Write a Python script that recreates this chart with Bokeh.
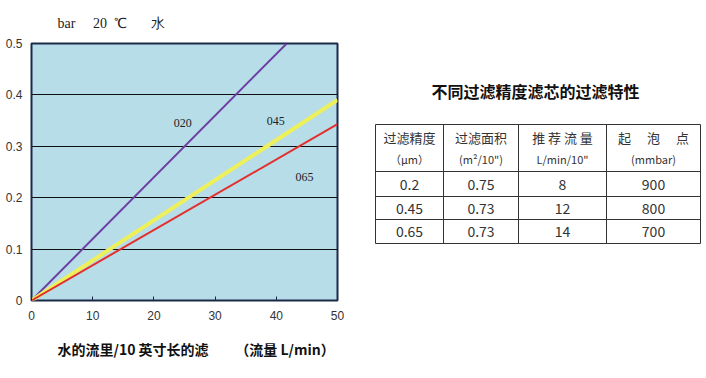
from bokeh.plotting import figure
from bokeh.models import Range1d, FixedTicker, Label, Title
from bokeh.layouts import row
from bokeh.embed import file_html
from bokeh.resources import INLINE

# ---------------- data ----------------
flow_020 = [0, 41.7]
dp_020 = [0, 0.5]
flow_045 = [0, 50]
dp_045 = [0, 0.39]
flow_065 = [0, 50]
dp_065 = [0, 0.343]
series_labels = ["020", "045", "065"]
label_x = [24.7, 39.9, 44.6]
label_y = [0.346, 0.350, 0.241]
x_ticks = [0, 10, 20, 30, 40, 50]
y_ticks = [0, 0.1, 0.2, 0.3, 0.4, 0.5]
y_tick_labels = ["0", "0.1", "0.2", "0.3", "0.4", "0.5"]
chart_title = "bar\u3000\u00a020\u00a0\u00a0℃\u3000\u00a0\u00a0\u00a0水"
x_caption = "水的流里/10 英寸长的滤\u3000\u00a0\u00a0\u00a0\u00a0（流量 L/min）"

table_title = "不同过滤精度滤芯的过滤特性"
header1 = ["过滤精度", "过滤面积", "推\u00a0荐\u00a0流\u00a0量", "起\u3000\u00a0泡\u3000\u00a0点"]
header2 = ["（μm）", "(m²/10\")", "L/min/10\"", "(mmbar)"]
precision = ["0.2", "0.45", "0.65"]
area = ["0.75", "0.73", "0.73"]
rec_flow = ["8", "12", "14"]
bubble = ["900", "800", "700"]

# ---------------- chart ----------------
SANS = "Liberation Sans"
SERIF = "Liberation Serif"
CJK = "Noto Sans CJK SC"

TOP, BOTTOM = 43, 78

p = figure(width=352, height=378, x_range=Range1d(0, 50), y_range=Range1d(0, 0.5),
           output_backend="svg", toolbar_location=None,
           min_border_left=31, min_border_right=15, min_border_top=TOP, min_border_bottom=BOTTOM)
p.background_fill_color = "#B7DDE8"
p.border_fill_color = "white"
p.outline_line_color = "#1B2A4A"
p.outline_line_width = 2
p.xgrid.visible = False
p.ygrid.ticker = FixedTicker(ticks=y_ticks)
p.ygrid.grid_line_color = "#111111"
p.ygrid.grid_line_width = 1

p.yaxis.ticker = FixedTicker(ticks=y_ticks)
p.yaxis.major_label_overrides = {t: s for t, s in zip(y_ticks, y_tick_labels)}
p.yaxis.axis_line_color = None
p.yaxis.major_tick_line_color = None
p.yaxis.minor_tick_line_color = None
p.yaxis.major_tick_in = 0
p.yaxis.major_tick_out = 0
p.yaxis.minor_tick_in = 0
p.yaxis.minor_tick_out = 0
p.yaxis.major_label_standoff = 9
p.yaxis.major_label_text_font = SANS
p.yaxis.major_label_text_font_size = "12px"
p.yaxis.major_label_text_color = "#333333"

p.xaxis.ticker = FixedTicker(ticks=x_ticks)
p.xaxis.axis_line_color = None
p.xaxis.major_tick_in = 4
p.xaxis.major_tick_out = 0
p.xaxis.major_tick_line_color = "#1B2A4A"
p.xaxis.minor_tick_line_color = None
p.xaxis.major_label_standoff = 10
p.xaxis.major_label_text_font = SANS
p.xaxis.major_label_text_font_size = "12px"
p.xaxis.major_label_text_color = "#333333"

p.title.text = chart_title
p.title.align = "left"
p.title.offset = 26
p.title.text_font = SERIF
p.title.text_font_size = "14px"
p.title.text_font_style = "normal"
p.title.text_color = "#222222"
p.title.standoff = 25

p.add_layout(Title(text=x_caption, align="left", offset=26, text_font=CJK,
                   text_font_size="14px", text_font_style="bold", text_color="#111111",
                   standoff=28), "below")

p.line(flow_020, dp_020, line_color="#6E3FA3", line_width=2)
p.line(flow_045, dp_045, line_color="#EEF05A", line_width=4)
p.line(flow_065, dp_065, line_color="#E2302E", line_width=2)

for t, lx, ly in zip(series_labels, label_x, label_y):
    p.add_layout(Label(x=lx, y=ly, text=t, text_font=SERIF, text_font_size="12px",
                       text_color="#222222", text_align="center", text_baseline="middle"))

# ---------------- table ----------------
# coordinates of this panel are page pixels; its frame spans the chart frame rows
q = figure(width=354, height=378, x_range=Range1d(352, 706), y_range=Range1d(300, 43),
           output_backend="svg", toolbar_location=None,
           min_border_left=0, min_border_right=0,
           min_border_top=TOP, min_border_bottom=BOTTOM)
q.axis.visible = False
q.grid.visible = False
q.outline_line_color = None
q.background_fill_color = "white"

col_edges = [375, 443, 518, 606, 700]
row_edges = [124, 171, 196, 219, 243]

q.segment(x0=[col_edges[0]] * len(row_edges), x1=[col_edges[-1]] * len(row_edges),
          y0=row_edges, y1=row_edges, line_color="#333333", line_width=1)
q.segment(x0=col_edges, x1=col_edges, y0=[row_edges[0]] * len(col_edges),
          y1=[row_edges[-1]] * len(col_edges), line_color="#333333", line_width=1)

centers = [(col_edges[i] + col_edges[i + 1]) / 2 for i in range(4)]
q.text(x=[535], y=[90], text=[table_title],
       text_font={"value": CJK}, text_font_style="bold", text_font_size="16px",
       text_color="#111111", text_align="center", text_baseline="middle")
q.text(x=centers, y=[137] * 4, text=header1, text_font={"value": CJK},
       text_font_size="13px", text_color="#333333", text_align="center", text_baseline="middle")
q.text(x=centers, y=[158] * 4, text=header2, text_font={"value": CJK},
       text_font_size="11px", text_color="#333333", text_align="center", text_baseline="middle")
row_cy = [(row_edges[i] + row_edges[i + 1]) / 2 for i in range(1, 4)]
for col, cx in zip([precision, area, rec_flow, bubble], centers):
    q.text(x=[cx] * len(col), y=row_cy, text=col, text_font={"value": CJK},
           text_font_size="14px", text_color="#333333", text_align="center",
           text_baseline="middle")

layout = row(p, q)
open("out.html", "w").write(file_html(layout, INLINE))
